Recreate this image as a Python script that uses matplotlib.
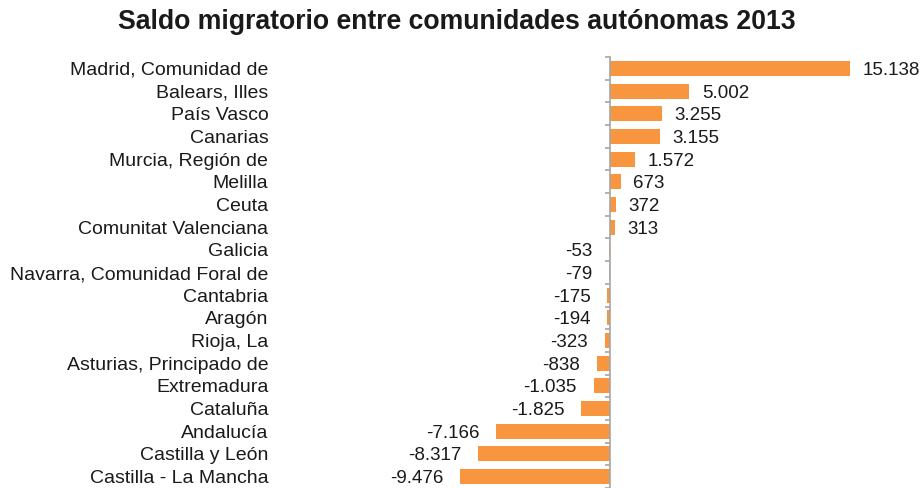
import matplotlib
matplotlib.use("Agg")
import matplotlib.pyplot as plt
import numpy as np

plt.rcParams['font.family'] = ['Liberation Sans', 'DejaVu Sans']

regions = [
    "Madrid, Comunidad de", "Balears, Illes", "País Vasco", "Canarias",
    "Murcia, Región de", "Melilla", "Ceuta", "Comunitat Valenciana",
    "Galicia", "Navarra, Comunidad Foral de", "Cantabria", "Aragón",
    "Rioja, La", "Asturias, Principado de", "Extremadura", "Cataluña",
    "Andalucía", "Castilla y León", "Castilla - La Mancha",
]
saldo = [15138, 5002, 3255, 3155, 1572, 673, 372, 313, -53, -79, -175,
         -194, -323, -838, -1035, -1825, -7166, -8317, -9476]

W, H = 922, 488
fig = plt.figure(figsize=(W / 100, H / 100), dpi=100)

# pixel layout: zero line at x=610, 15138 reaches x=850
x0_px, left_px, right_px, top_px = 610, 380, 900, 57
k = 240 / 15138
ax = fig.add_axes([left_px / W, 0, (right_px - left_px) / W, (H - top_px) / H])

y = np.arange(len(regions))
ax.barh(y, saldo, height=0.66, color="#F7963F")

ax.set_xlim((left_px - x0_px) / k, (right_px - x0_px) / k)
ax.set_ylim(18.3, -0.5)

for s in ["top", "right", "bottom"]:
    ax.spines[s].set_visible(False)
ax.spines["left"].set_position(("data", 0))
ax.spines["left"].set_color("#A6A6A6")
ax.spines["left"].set_linewidth(1.2)
ax.set_xticks([])

ax.set_yticks(y)
ax.set_yticklabels(regions, fontsize=14, color="#1a1a1a", va="center_baseline")
ax.set_yticks(np.arange(-0.5, len(regions), 1), minor=True)
ax.tick_params(axis="y", which="major", length=0, pad=246)
ax.tick_params(axis="y", which="minor", length=3.5, width=1.2, color="#A6A6A6")

for yi, v in zip(y, saldo):
    txt = f"{v:,}".replace(",", ".")
    off = 9 if v >= 0 else -12
    ax.annotate(txt, (v, yi), xytext=(off, 0), textcoords="offset points",
                ha="left" if v >= 0 else "right", va="center_baseline",
                fontsize=13.5, color="#1a1a1a")

fig.text(457 / W, 1 - 22 / H, "Saldo migratorio entre comunidades autónomas 2013",
         ha="center", va="center", fontsize=19.2, fontweight="bold", color="#1a1a1a")

fig.savefig("out.png", dpi=100)
